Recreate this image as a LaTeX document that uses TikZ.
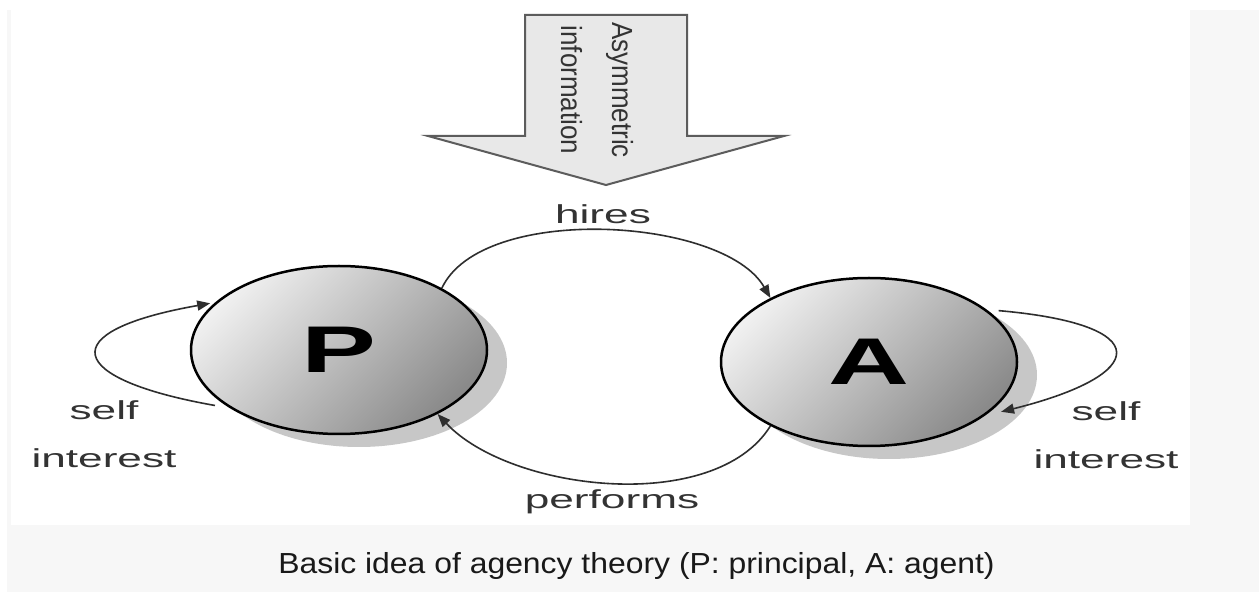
\documentclass[tikz,border=0pt]{standalone}
\usepackage{fontspec}
\setmainfont{Liberation Sans}
\usepackage{tikz}
\usetikzlibrary{shapes.geometric,arrows.meta,shadows}

\definecolor{txtgray}{HTML}{333333}
\definecolor{linegray}{HTML}{2E2E2E}
\definecolor{bandgray}{HTML}{F7F7F7}
\definecolor{boxfill}{HTML}{E8E8E8}
\definecolor{boxline}{HTML}{5C5C5C}

\newcommand{\wide}[1]{\scalebox{1.7}[1]{#1}}

\tikzset{
  party/.style={ellipse, draw=black, line width=2.5pt, minimum width=296pt,
    minimum height=168pt, inner sep=0pt,
    top color=gray!12, bottom color=gray!92, shading angle=45,
    drop shadow={shadow xshift=20pt, shadow yshift=-13pt, fill=black!22, opacity=1},
    font=\fontsize{66}{66}\selectfont\bfseries},
  lbl/.style={text=txtgray, font=\fontsize{26}{48}\selectfont, align=center, inner sep=0pt},
  link/.style={->, draw=linegray, line width=1.6pt}
}

\begin{document}
\begin{tikzpicture}[x=1pt,y=1pt,>={Triangle[length=13pt,width=10pt]}]
\useasboundingbox (0,0) rectangle (1259,592);
% background
\fill[white] (0,0) rectangle (1259,592);
\fill[bandgray] (7,0) rectangle (1259,582);
\fill[white] (11,67) rectangle (1190,592);

% block arrow
\draw[fill=boxfill, draw=boxline, line width=2pt]
  (525,577) -- (687,577) -- (687,456) -- (784,456) -- (606,407) -- (428,456) -- (525,456) -- cycle;
\node[lbl, rotate=-90, font=\fontsize{26}{51}\selectfont] (asym) at (597,502)
  {\scalebox{1}[1.12]{Asymmetric}\\\scalebox{1}[1.12]{information}};

% nodes
\node[party] (P) at (339,242) {\wide{P}};
\node[party] (A) at (869,230) {\wide{A}};

\node[lbl, anchor=base] (hires) at (603,368.5) {\wide{hires}};
\node[lbl, anchor=base] (performs) at (612,83.5) {\wide{performs}};
\node[lbl] (selfP) at (104,158) {\wide{self}\\\wide{interest}};
\node[lbl] (selfA) at (1106,157) {\wide{self}\\\wide{interest}};

% arrows
\draw[link] (P.31) to[out=65,in=120,looseness=0.73] (A.147);
\draw[link] (A.213) to[out=238,in=-47,looseness=0.81] (P.327);
\draw[link, shorten <=15pt, shorten >=5pt] (P.208) to[out=170,in=190,looseness=4] (P.159);
\draw[link, shorten <=12pt, shorten >=17pt] (A.24) to[out=-5,in=14,looseness=4.1] (A.335);

% caption
\node[anchor=base, inner sep=0pt, text=black!90, font=\fontsize{29}{29}\selectfont] (caption) at (636.5,18)
  {\scalebox{1.1}[1]{Basic idea of agency theory (P: principal, A: agent)}};
\end{tikzpicture}
\end{document}
